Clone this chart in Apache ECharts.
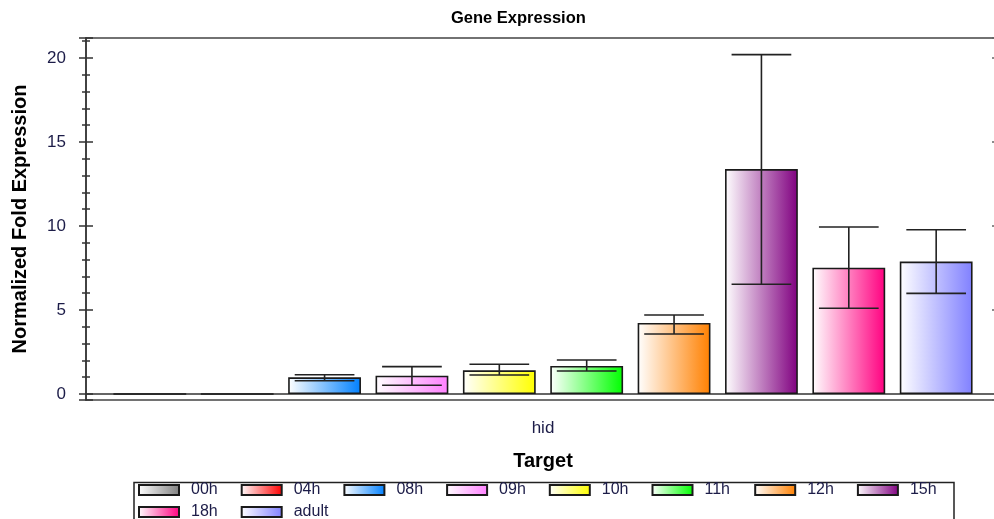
<!DOCTYPE html>
<html>
<head>
<meta charset="utf-8">
<script src="https://cdn.jsdelivr.net/npm/echarts@6/dist/echarts.min.js"></script>
<style>
  html, body { margin: 0; padding: 0; background: #fff; }
  #main { width: 994px; height: 519px; }
</style>
</head>
<body>
<div id="main"></div>
<script>
// data
var categories = ['hid'];
var seriesNames = ['00h', '04h', '08h', '09h', '10h', '11h', '12h', '15h', '18h', 'adult'];
var values   = [0, 0, 0.99, 1.09, 1.41, 1.67, 4.23, 13.39, 7.52, 7.88];
var errLow   = [0, 0, 0.79, 0.52, 1.13, 1.37, 3.57, 6.53, 5.10, 5.99];
var errHigh  = [0, 0, 1.15, 1.63, 1.77, 2.02, 4.70, 20.2, 9.94, 9.78];
var colors   = ['#808080', '#ff0000', '#0080ff', '#ff80ff', '#ffff00', '#00ff00', '#ff8000', '#800080', '#ff0080', '#8080ff'];

var CAT_GAP = 0.06, BAR_GAP = 0.2;
var textCol = '#1c1c48';
var font = 'Liberation Sans';

var myChart = echarts.init(document.getElementById('main'));

function grad(c) {
    return new echarts.graphic.LinearGradient(0, 0, 1, 0, [
        {offset: 0, color: '#ffffff'},
        {offset: 1, color: c}
    ]);
}

var series = seriesNames.map(function (name, i) {
    return {
        name: name,
        type: 'bar',
        data: [values[i]],
        barGap: (BAR_GAP * 100) + '%',
        barCategoryGap: (CAT_GAP * 100) + '%',
        itemStyle: {color: grad(colors[i]), borderColor: '#1a1a1a', borderWidth: 1.6},
        emphasis: {disabled: true}
    };
});

// error bars, placed on the same slots as the bars
series.push({
    type: 'custom',
    name: 'err',
    z: 5,
    encode: {x: 0, y: [1, 2]},
    data: seriesNames.map(function (n, i) { return [0, errLow[i], errHigh[i], i]; }),
    renderItem: function (params, api) {
        var idx = api.value(3);
        if (api.value(2) === api.value(1)) return null;
        var n = seriesNames.length;
        var band = api.size([1, 0])[0];
        var bw = band * (1 - CAT_GAP) / (n + (n - 1) * BAR_GAP);
        var cx = api.coord([0, 0])[0] + (idx - (n - 1) / 2) * bw * (1 + BAR_GAP);
        var yl = api.coord([0, api.value(1)])[1];
        var yh = api.coord([0, api.value(2)])[1];
        var hw = bw * 0.41;
        var st = {stroke: '#222', lineWidth: 1.6};
        return {
            type: 'group',
            children: [
                {type: 'line', shape: {x1: cx, y1: yl, x2: cx, y2: yh}, style: st},
                {type: 'line', shape: {x1: cx - hw, y1: yh, x2: cx + hw, y2: yh}, style: st},
                {type: 'line', shape: {x1: cx - hw, y1: yl, x2: cx + hw, y2: yl}, style: st}
            ]
        };
    }
});

var yMin = -0.357, yMax = 21.19;

// one legend per item so the slots are evenly spaced like the reference
var legends = seriesNames.map(function (name, i) {
    return {
        data: [name],
        left: 138 + (i % 8) * 102.7,
        top: i < 8 ? 482 : 504,
        padding: 0,
        itemWidth: 40, itemHeight: 10,
        icon: 'rect',
        formatter: '{a|{name}}',
        textStyle: {
            fontFamily: font, fontSize: 16, color: textCol,
            rich: {a: {fontFamily: font, fontSize: 16, color: textCol, padding: [0, 0, 0, 7]}}
        }
    };
});

var option = {
    animation: false,
    title: {
        text: 'Gene Expression',
        left: 446, top: 5,
        textStyle: {fontFamily: font, fontSize: 16.5, fontWeight: 'bold', color: '#000'}
    },
    legend: legends,
    graphic: [{
        type: 'rect',
        shape: {x: 134, y: 482.5, width: 820, height: 50},
        style: {fill: 'none', stroke: '#222', lineWidth: 1.5},
        silent: true
    }],
    grid: {left: 86, width: 914, top: 38, bottom: 119, outerBoundsMode: 'none',
        show: true, borderColor: '#444', borderWidth: 1.5},
    xAxis: {
        type: 'category',
        data: categories,
        name: 'Target',
        nameLocation: 'middle',
        nameGap: 51,
        nameTextStyle: {fontFamily: font, fontSize: 20, fontWeight: 'bold', color: '#000'},
        axisLine: {lineStyle: {color: '#333', width: 1.5}},
        axisTick: {alignWithLabel: true, length: 9, lineStyle: {color: '#333', width: 1.5}},
        axisLabel: {fontFamily: font, fontSize: 17, color: textCol, margin: 20}
    },
    yAxis: [{
        type: 'value',
        min: yMin, max: yMax,
        splitNumber: 4,
        name: 'Normalized Fold Expression',
        nameLocation: 'middle',
        nameGap: 56,
        nameTextStyle: {fontFamily: font, fontSize: 20, fontWeight: 'bold', color: '#000'},
        axisLine: {show: true, lineStyle: {color: '#333', width: 1.5}},
        axisTick: {show: true, length: 7, lineStyle: {color: '#333', width: 1.5}},
        minorTick: {show: true, splitNumber: 5, length: 4, lineStyle: {color: '#333', width: 1.5}},
        axisLabel: {fontFamily: font, fontSize: 17, color: textCol, margin: 20, showMinLabel: false, showMaxLabel: false},
        splitLine: {show: false}
    }, {
        type: 'value',
        min: yMin, max: yMax,
        splitNumber: 4,
        position: 'left',
        axisLine: {show: false},
        axisTick: {show: true, inside: true, length: 7, lineStyle: {color: '#333', width: 1.5}},
        minorTick: {show: true, splitNumber: 5, length: 4, lineStyle: {color: '#333', width: 1.5}},
        axisLabel: {show: false},
        splitLine: {show: false}
    }, {
        type: 'value',
        min: yMin, max: yMax,
        splitNumber: 4,
        position: 'right',
        axisLine: {show: false},
        axisTick: {show: true, inside: true, length: 8, lineStyle: {color: '#666', width: 1.5}},
        axisLabel: {show: false},
        splitLine: {show: false}
    }],
    series: series
};

myChart.setOption(option);
</script>
</body>
</html>
